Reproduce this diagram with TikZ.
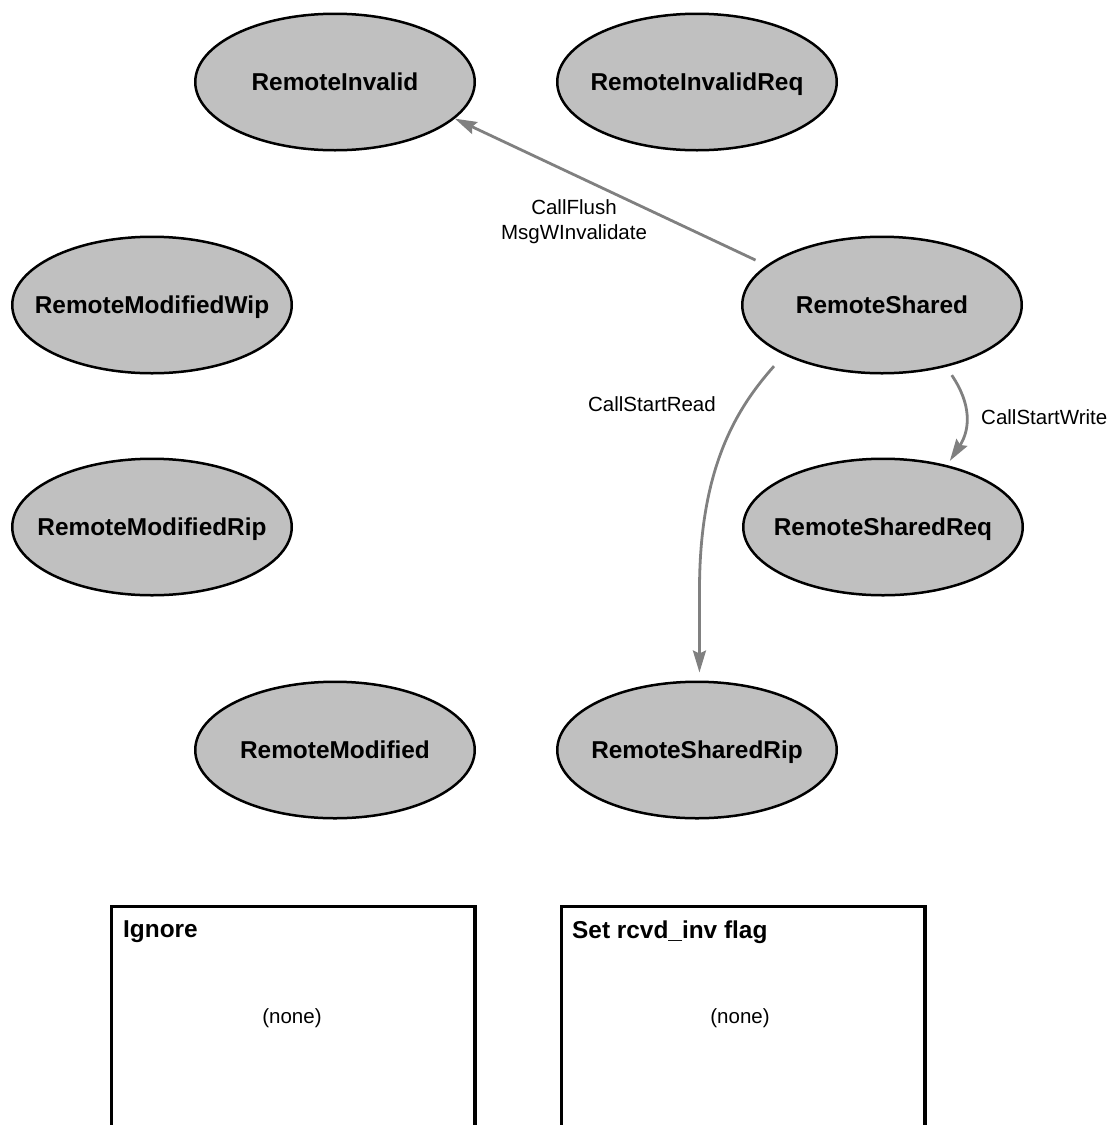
\documentclass[tikz,border=0pt]{standalone}
\usepackage{fontspec}
\setmainfont{Liberation Sans}
\usetikzlibrary{shapes.geometric,arrows.meta}
\definecolor{nodegray}{HTML}{C0C0C0}
\definecolor{arrgray}{HTML}{808080}
\begin{document}
\begin{tikzpicture}[x=1pt,y=-1pt,
  st/.style={ellipse,draw=black,line width=2.5pt,fill=nodegray,
    minimum width=279.5pt,minimum height=136.5pt,inner sep=0pt,
    text height=17.5pt,text depth=0pt,
    font=\fontsize{24.4}{29}\selectfont\bfseries},
  arr/.style={draw=arrgray,line width=2.8pt,
    -{Stealth[length=22pt,width=13pt,inset=3pt]}},
  lbl/.style={font=\fontsize{20.5}{25}\selectfont,inner sep=0pt,align=center},
  boxst/.style={draw=black,line width=3.5pt,fill=none,inner sep=0pt},
  ttl/.style={font=\fontsize{24.4}{29}\selectfont\bfseries,inner sep=0pt,anchor=west}
]
\useasboundingbox (0,0) rectangle (1118,1125);

\node[st] (ri)    at (335,82)  {\makebox[0pt]{RemoteInvalid}};
\node[st] (rir)   at (697,82)  {\makebox[0pt]{RemoteInvalidReq}};
\node[st] (rmw)   at (152,305) {\makebox[0pt]{RemoteModifiedWip}};
\node[st] (rs)    at (882,305) {\makebox[0pt]{RemoteShared}};
\node[st] (rmr)   at (152,527) {\makebox[0pt]{RemoteModifiedRip}};
\node[st] (rsr)   at (883,527) {\makebox[0pt]{RemoteSharedReq}};
\node[st] (rm)    at (335,750) {\makebox[0pt]{RemoteModified}};
\node[st] (rsrip) at (697,750) {\makebox[0pt]{RemoteSharedRip}};

% connectors
\draw[arr,shorten <=12pt] (rs.161) -- (ri.-17);
\node[lbl] (l1) at (574,222) {CallFlush\\MsgWInvalidate};

\draw[arr,shorten <=15pt,shorten >=8pt] (rs.-153) .. controls (735,410) and (699.5,470) .. (699.5,590) -- (rsrip.88);
\node[lbl] (l2) at (652,404) {CallStartRead};

\draw[arr,shorten <=10pt,shorten >=5pt] (rs.-44) .. controls (972,405) and (970,430) .. (rsr.44);
\node[lbl,anchor=west] (l3) at (981,417) {CallStartWrite};

% boxes
\node[boxst,anchor=north west,minimum width=363.5pt,minimum height=260pt] (b1) at (109.75,904.75) {};
\node[ttl] (b1t) at (123,932) {Ignore};
\node[lbl] (b1n) at (292,1018) {(none)};

\node[boxst,anchor=north west,minimum width=363.5pt,minimum height=260pt] (b2) at (559.75,904.75) {};
\node[ttl] (b2t) at (572,932) {Set rcvd\_inv flag};
\node[lbl] (b2n) at (740,1018) {(none)};
\end{tikzpicture}
\end{document}
